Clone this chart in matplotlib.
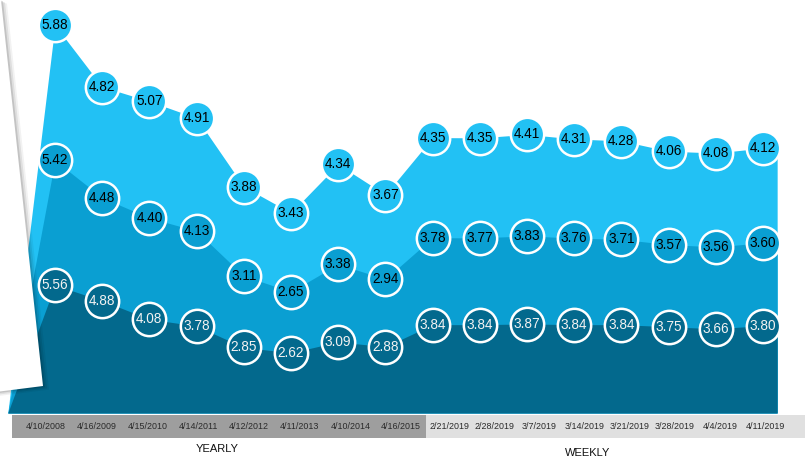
import matplotlib
matplotlib.use("Agg")
import matplotlib.pyplot as plt
import numpy as np
from matplotlib.patches import Polygon

plt.rcParams["font.family"] = ["Liberation Sans", "DejaVu Sans"]

# data
dates = ["4/10/2008", "4/16/2009", "4/15/2010", "4/14/2011", "4/12/2012", "4/11/2013",
         "4/10/2014", "4/16/2015", "2/21/2019", "2/28/2019", "3/7/2019", "3/14/2019",
         "3/21/2019", "3/28/2019", "4/4/2019", "4/11/2019"]
bottom_vals = [5.56, 4.88, 4.08, 3.78, 2.85, 2.62, 3.09, 2.88,
               3.84, 3.84, 3.87, 3.84, 3.84, 3.75, 3.66, 3.80]
middle_vals = [5.42, 4.48, 4.40, 4.13, 3.11, 2.65, 3.38, 2.94,
               3.78, 3.77, 3.83, 3.76, 3.71, 3.57, 3.56, 3.60]
top_vals = [5.88, 4.82, 5.07, 4.91, 3.88, 3.43, 4.34, 3.67,
            4.35, 4.35, 4.41, 4.31, 4.28, 4.06, 4.08, 4.12]

c_top = "#22c1f4"
c_mid = "#0a9fd2"
c_bot = "#03698d"

W, H = 805, 457
fig = plt.figure(figsize=(W / 100, H / 100), dpi=100)

ax = fig.add_axes([0, 44 / H, 1, 413 / H])
ax.set_xlim(-1.165, 15.89)
ax.set_ylim(0, 17.95)
ax.axis("off")

x = np.arange(len(dates))
b = np.array(bottom_vals)
m = b + np.array(middle_vals)
t = m + np.array(top_vals)

# areas with a slanted left edge and a short flat tail on the right
xa = np.concatenate([[-1.0], x, [15.3]])
for yv, col in [(t, c_top), (m, c_mid), (b, c_bot)]:
    ya = np.concatenate([[0], yv, [yv[-1]]])
    ax.fill_between(xa, 0, ya, color=col, lw=0, zorder=2)

for yv, vals, col, tc in [(t, top_vals, c_top, "black"),
                          (m, middle_vals, c_mid, "black"),
                          (b, bottom_vals, c_bot, "#f2f2f2")]:
    ax.scatter(x, yv, s=24 ** 2, facecolor=col, edgecolor="white", linewidth=1.8, zorder=4)
    for xi, yi, v in zip(x, yv, vals):
        ax.text(xi, yi, f"{v:.2f}", ha="center", va="center", fontsize=9.8, color=tc, zorder=5)

# white sheet on the left with shadow
def px(pts):
    return [(px_ / W, 1 - py_ / H) for px_, py_ in pts]

sheet = [(-20, -5), (1, 0), (43, 386), (-20, 394)]
for off, a in [(6, 0.05), (4, 0.08), (2, 0.12)]:
    shadow = [(p[0] + off, p[1] + off * 0.6) for p in sheet]
    fig.patches.append(Polygon(px(shadow), closed=True, transform=fig.transFigure,
                               facecolor="black", alpha=a, lw=0, zorder=6))
fig.patches.append(Polygon(px(sheet), closed=True, transform=fig.transFigure,
                           facecolor="white", lw=0, zorder=7))

# label band
band = fig.add_axes([0, 19 / H, 1, 23 / H])
band.set_xlim(0, W)
band.set_ylim(0, 1)
band.axis("off")
band.axvspan(12, 426, color="#9e9e9e", lw=0)
band.axvspan(426, W, color="#e0e0e0", lw=0)
pos = np.concatenate([np.linspace(46, 401, 8), np.linspace(449, 765, 8)])
for p, d in zip(pos, dates):
    band.text(p, 0.5, d, ha="center", va="center", fontsize=6.4, color="#2a2a2a")

fig.text(217 / W, 1 - 449 / H, "YEARLY", ha="center", va="center", fontsize=8, color="#111111")
fig.text(588 / W, 1 - 453 / H, "WEEKLY", ha="center", va="center", fontsize=8, color="#111111")

fig.savefig("out.png", dpi=100)
